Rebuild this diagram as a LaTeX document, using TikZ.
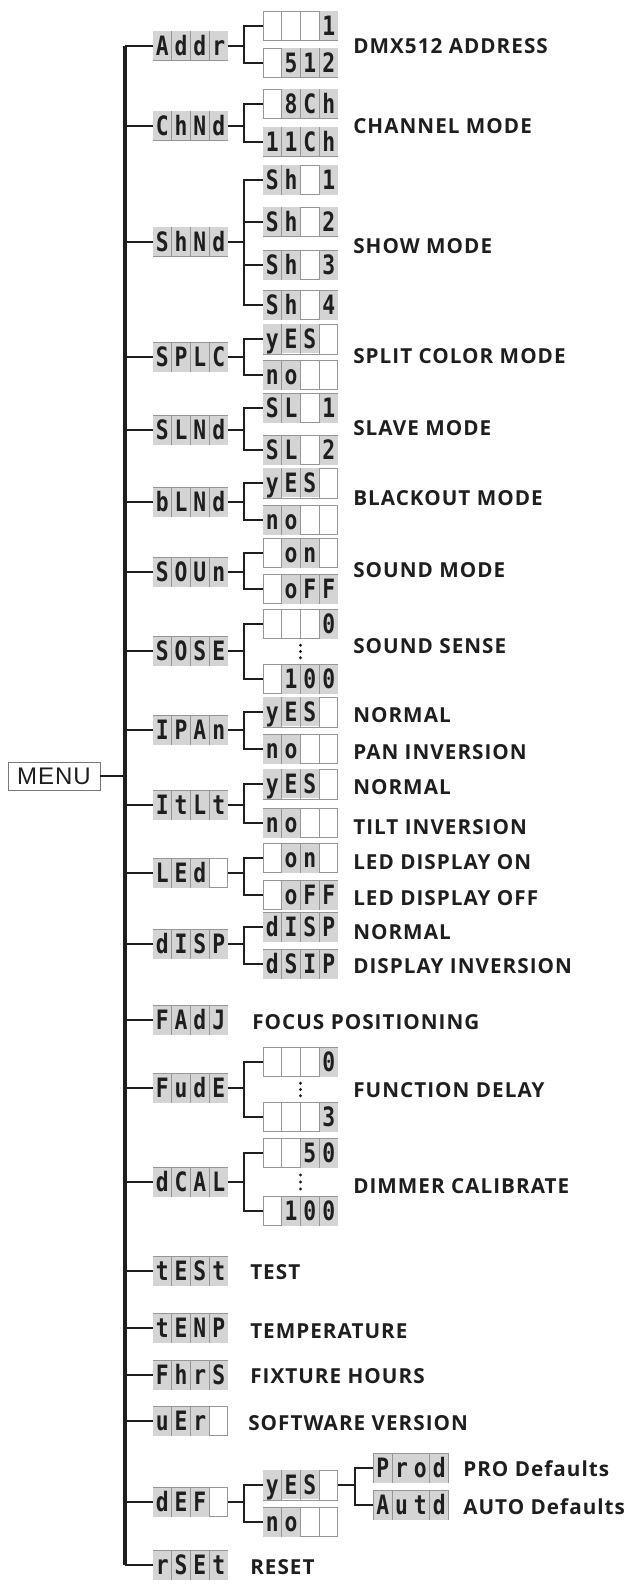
\documentclass[tikz,border=0pt]{standalone}
\usepackage{fontspec}
\usepackage{graphicx}
\usepackage{xcolor}
\usetikzlibrary{calc}
\newfontfamily\lblfont{Open Sans}[LetterSpace=5]
\newfontfamily\menufont{Liberation Sans}[LetterSpace=4]
\newfontfamily\segfont{DejaVu Sans Mono}
\definecolor{lcdbg}{RGB}{212,212,212}
\definecolor{lcdline}{RGB}{150,150,150}
\definecolor{ink}{RGB}{30,30,30}
\setlength{\fboxsep}{0pt}
\newlength{\cellw}\setlength{\cellw}{13.5pt}
% one cell of the display, grey when it shows a character
\newcommand{\lcdcell}[1]{%
  \if\relax\detokenize{#1}\relax
    \makebox[\cellw]{\rule[-3.4pt]{0pt}{21.75pt}}%
  \else
    \colorbox{lcdbg}{\makebox[\cellw]{\rule[-3.4pt]{0pt}{21.75pt}\scalebox{0.8}[1]{\segfont\bfseries\fontsize{20}{20}\selectfont #1}}}%
  \fi}
\newcommand{\lcdsep}{\textcolor{lcdline}{\vrule width 0.6pt}}
\newcommand{\lcd}[4]{\lcdcell{#1}\lcdsep\lcdcell{#2}\lcdsep\lcdcell{#3}\lcdsep\lcdcell{#4}}

\begin{document}
\begin{tikzpicture}[x=0.75pt, y=-0.75pt,
  lcdbox/.style={draw=lcdline, line width=0.7pt, inner sep=0pt, text=ink},
  menubox/.style={draw=lcdline!80!black, line width=0.7pt, inner sep=0pt, minimum width=69pt, minimum height=21pt, font=\menufont\fontsize{18}{18}\selectfont, text=ink},
  lbl/.style={anchor=west, inner sep=0pt, text=ink, font=\lblfont\bfseries\fontsize{15.5}{15.5}\selectfont},
  conn/.style={line width=1.2pt, color=ink},
  bar/.style={line width=2.3pt, color=ink}]
  \useasboundingbox (0,0) rectangle (628,1584);
  \node[menubox] (menu) at (54,776) {MENU};
  % first level
  \node[lcdbox] (a1) at (190.5,46) {\lcd{A}{d}{d}{r}};
  \node[lcdbox] (a2) at (190.5,126) {\lcd{C}{h}{N}{d}};
  \node[lcdbox] (a3) at (190.5,242) {\lcd{S}{h}{N}{d}};
  \node[lcdbox] (a4) at (190.5,357) {\lcd{S}{P}{L}{C}};
  \node[lcdbox] (a5) at (190.5,430) {\lcd{S}{L}{N}{d}};
  \node[lcdbox] (a6) at (190.5,502) {\lcd{b}{L}{N}{d}};
  \node[lcdbox] (a7) at (190.5,572) {\lcd{S}{O}{U}{n}};
  \node[lcdbox] (a8) at (190.5,651) {\lcd{S}{O}{S}{E}};
  \node[lcdbox] (a9) at (190.5,730) {\lcd{I}{P}{A}{n}};
  \node[lcdbox] (a10) at (190.5,805) {\lcd{I}{t}{L}{t}};
  \node[lcdbox] (a11) at (190.5,873) {\lcd{L}{E}{d}{}};
  \node[lcdbox] (a12) at (190.5,944) {\lcd{d}{I}{S}{P}};
  \node[lcdbox] (a13) at (190.5,1020) {\lcd{F}{A}{d}{J}};
  \node[lcdbox] (a14) at (190.5,1088) {\lcd{F}{u}{d}{E}};
  \node[lcdbox] (a15) at (190.5,1182) {\lcd{d}{C}{A}{L}};
  \node[lcdbox] (a16) at (190.5,1271) {\lcd{t}{E}{S}{t}};
  \node[lcdbox] (a17) at (190.5,1328) {\lcd{t}{E}{N}{P}};
  \node[lcdbox] (a18) at (190.5,1375) {\lcd{F}{h}{r}{S}};
  \node[lcdbox] (a19) at (190.5,1421) {\lcd{u}{E}{r}{}};
  \node[lcdbox] (a20) at (190.5,1502) {\lcd{d}{E}{F}{}};
  \node[lcdbox] (a21) at (190.5,1565) {\lcd{r}{S}{E}{t}};
  % second level
  \node[lcdbox] (c1-1) at (300.5,26) {\lcd{}{}{}{1}};
  \node[lcdbox] (c1-2) at (300.5,63) {\lcd{}{5}{1}{2}};
  \node[lcdbox] (c2-1) at (300.5,104) {\lcd{}{8}{C}{h}};
  \node[lcdbox] (c2-2) at (300.5,142) {\lcd{1}{1}{C}{h}};
  \node[lcdbox] (c3-1) at (300.5,180) {\lcd{S}{h}{}{1}};
  \node[lcdbox] (c3-2) at (300.5,222) {\lcd{S}{h}{}{2}};
  \node[lcdbox] (c3-3) at (300.5,265) {\lcd{S}{h}{}{3}};
  \node[lcdbox] (c3-4) at (300.5,305) {\lcd{S}{h}{}{4}};
  \node[lcdbox] (c4-1) at (300.5,339) {\lcd{y}{E}{S}{}};
  \node[lcdbox] (c4-2) at (300.5,375) {\lcd{n}{o}{}{}};
  \node[lcdbox] (c5-1) at (300.5,408) {\lcd{S}{L}{}{1}};
  \node[lcdbox] (c5-2) at (300.5,450) {\lcd{S}{L}{}{2}};
  \node[lcdbox] (c6-1) at (300.5,483) {\lcd{y}{E}{S}{}};
  \node[lcdbox] (c6-2) at (300.5,520) {\lcd{n}{o}{}{}};
  \node[lcdbox] (c7-1) at (300.5,553) {\lcd{}{o}{n}{}};
  \node[lcdbox] (c7-2) at (300.5,589) {\lcd{}{o}{F}{F}};
  \node[lcdbox] (c8-1) at (300.5,624) {\lcd{}{}{}{0}};
  \node[lcdbox] (c8-2) at (300.5,679) {\lcd{}{1}{0}{0}};
  \node[lcdbox] (c9-1) at (300.5,712) {\lcd{y}{E}{S}{}};
  \node[lcdbox] (c9-2) at (300.5,749) {\lcd{n}{o}{}{}};
  \node[lcdbox] (c10-1) at (300.5,784) {\lcd{y}{E}{S}{}};
  \node[lcdbox] (c10-2) at (300.5,823) {\lcd{n}{o}{}{}};
  \node[lcdbox] (c11-1) at (300.5,858) {\lcd{}{o}{n}{}};
  \node[lcdbox] (c11-2) at (300.5,895) {\lcd{}{o}{F}{F}};
  \node[lcdbox] (c12-1) at (300.5,927) {\lcd{d}{I}{S}{P}};
  \node[lcdbox] (c12-2) at (300.5,964) {\lcd{d}{S}{I}{P}};
  \node[lcdbox] (c14-1) at (300.5,1062) {\lcd{}{}{}{0}};
  \node[lcdbox] (c14-2) at (300.5,1117) {\lcd{}{}{}{3}};
  \node[lcdbox] (c15-1) at (300.5,1153) {\lcd{}{}{5}{0}};
  \node[lcdbox] (c15-2) at (300.5,1211) {\lcd{}{1}{0}{0}};
  \node[lcdbox] (c20-1) at (300.5,1485) {\lcd{y}{E}{S}{}};
  \node[lcdbox] (c20-2) at (300.5,1522) {\lcd{n}{o}{}{}};
  % third level
  \node[lcdbox] (d1) at (411,1468) {\lcd{P}{r}{o}{d}};
  \node[lcdbox] (d2) at (411,1505) {\lcd{A}{u}{t}{d}};
  % texts
  \node[lbl] (l1) at (353,46) {DMX512 ADDRESS};
  \node[lbl] (l2) at (353,126) {CHANNEL MODE};
  \node[lbl] (l3) at (353,246) {SHOW MODE};
  \node[lbl] (l4) at (353,356) {SPLIT COLOR MODE};
  \node[lbl] (l5) at (353,428) {SLAVE MODE};
  \node[lbl] (l6) at (353,498) {BLACKOUT MODE};
  \node[lbl] (l7) at (353,570) {SOUND MODE};
  \node[lbl] (l8) at (353,646) {SOUND SENSE};
  \node[lbl] (l9a) at (353,715) {NORMAL};
  \node[lbl] (l9b) at (353,752) {PAN INVERSION};
  \node[lbl] (l10a) at (353,787) {NORMAL};
  \node[lbl] (l10b) at (353,827) {TILT INVERSION};
  \node[lbl] (l11a) at (353,862) {LED DISPLAY ON};
  \node[lbl] (l11b) at (353,898) {LED DISPLAY OFF};
  \node[lbl] (l12a) at (353,932) {NORMAL};
  \node[lbl] (l12b) at (353,966) {DISPLAY INVERSION};
  \node[lbl] (l13) at (252,1022) {FOCUS POSITIONING};
  \node[lbl] (l14) at (353,1090) {FUNCTION DELAY};
  \node[lbl] (l15) at (353,1186) {DIMMER CALIBRATE};
  \node[lbl] (l16) at (250,1272) {TEST};
  \node[lbl] (l17) at (250,1331) {TEMPERATURE};
  \node[lbl] (l18) at (250,1376) {FIXTURE HOURS};
  \node[lbl] (l19) at (248,1423) {SOFTWARE VERSION};
  \node[lbl] (l20a) at (463,1469) {PRO Defaults};
  \node[lbl] (l20b) at (463,1507) {AUTO Defaults};
  \node[lbl] (l21) at (250,1567) {RESET};
  % connectors
  \coordinate (trunk) at (125,776);
  \draw[conn] (menu.east) -- (trunk);
  \draw[bar] (trunk |- a1) -- (trunk |- a21);
  \foreach \i in {1,...,21}
    \draw[conn] (trunk |- a\i) -- (a\i.west);
  \foreach \p/\n in {1/2,2/2,3/4,4/2,5/2,6/2,7/2,8/2,9/2,10/2,11/2,12/2,14/2,15/2,20/2}
    \foreach \k in {1,...,\n}
      \draw[conn] (a\p.east) -- ++(16,0) |- (c\p-\k.west);
  \foreach \k in {1,2}
    \draw[conn] (c20-1.east) -- ++(17,0) |- (d\k.west);
  % dots between first and last value
  \foreach \p in {8,14,15}
    \foreach \t in {0.25,0.5,0.75}
      \fill[ink] ($(c\p-1.south)!\t!(c\p-2.north)$) circle (1.6);
\end{tikzpicture}
\end{document}
